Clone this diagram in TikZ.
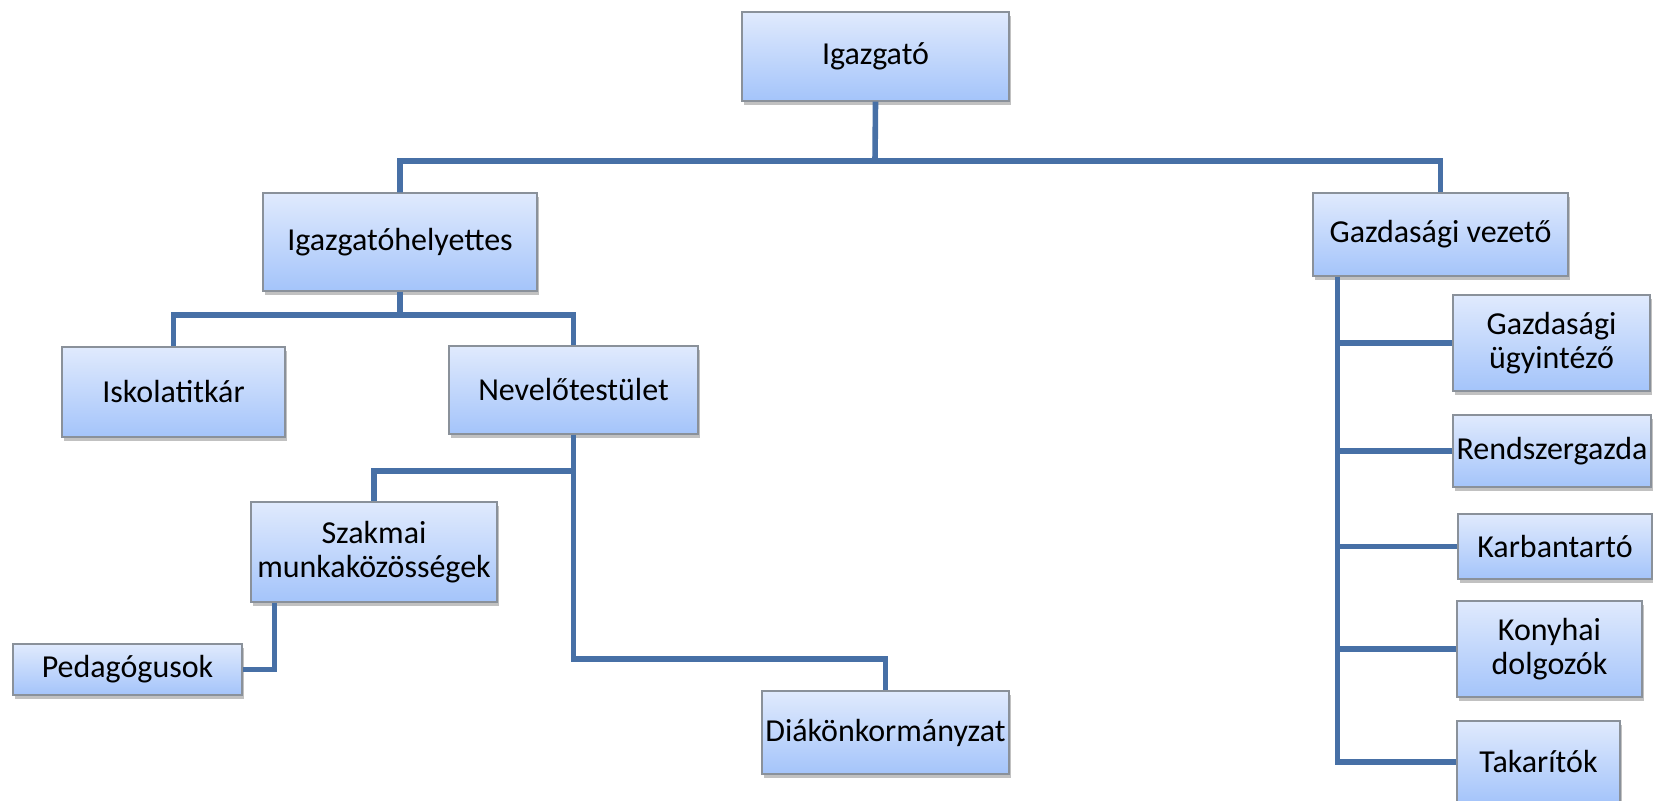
\documentclass[tikz,border=0pt]{standalone}
\usepackage{fontspec}
\setmainfont{Carlito}
\usetikzlibrary{shadows,positioning}
\definecolor{conn}{RGB}{71,112,166}
\definecolor{boxborder}{RGB}{138,145,154}
\definecolor{boxtop}{RGB}{224,234,253}
\definecolor{boxbot}{RGB}{164,196,250}
\tikzset{
  orgbox/.style={draw=boxborder, line width=0.6pt, top color=boxtop, bottom color=boxbot,
    align=center, inner sep=0pt, font=\fontsize{16pt}{17pt}\selectfont, text=black,
    drop shadow={shadow xshift=0.8pt, shadow yshift=-1.8pt, opacity=0.35, fill=black!70}},
  link/.style={draw=conn, line width=2.8pt, line join=miter}
}
\begin{document}
\begin{tikzpicture}[x=0.5pt,y=-0.5pt]
\useasboundingbox (0,0) rectangle (1653,801);
\clip (0,0) rectangle (1653,801);
% nodes (positions in px of the reference)
\node[orgbox, minimum width=133.5pt, minimum height=44.5pt] (igaz) at (875.5,56.5) {Igazgató};
\node[orgbox, minimum width=137pt, minimum height=49pt] (helyettes) at (400,242) {Igazgatóhelyettes};
\node[orgbox, minimum width=127.5pt, minimum height=41.5pt] (gazdvez) at (1440.5,234.5) {Gazdasági vezető};
\node[orgbox, minimum width=111.5pt, minimum height=45pt] (iskola) at (173.5,392) {Iskolatitkár};
\node[orgbox, minimum width=124.5pt, minimum height=44pt] (nevelo) at (573.5,390) {Nevelőtestület};
\node[orgbox, minimum width=123pt, minimum height=50pt] (szakmai) at (374,552) {Szakmai\\munkaközösségek};
\node[orgbox, minimum width=114.5pt, minimum height=25.5pt] (pedag) at (127.5,669.5) {Pedagógusok};
\node[orgbox, minimum width=123.5pt, minimum height=41.5pt] (diak) at (885.5,732.5) {Diákönkormányzat};
\node[orgbox, minimum width=98.5pt, minimum height=48pt] (ugy) at (1551.5,343) {Gazdasági\\ügyintéző};
\node[orgbox, minimum width=99pt, minimum height=36pt] (rend) at (1552,451) {Rendszergazda};
\node[orgbox, minimum width=97pt, minimum height=32.5pt] (karban) at (1555,546.5) {Karbantartó};
\node[orgbox, minimum width=92.5pt, minimum height=48pt] (konyha) at (1549.5,649) {Konyhai\\dolgozók};
\node[orgbox, minimum width=81.5pt, minimum height=41pt] (takar) at (1538.5,762) {Takarítók};
% junction points
\coordinate (j1) at (875,161);
\coordinate (j2) at (400,315);
\coordinate (j3) at (573.5,659);
\coordinate (j3a) at (573.5,471);
\coordinate (s1) at ([xshift=12pt]szakmai.south west);
\coordinate (g1) at ([xshift=12.5pt]gazdvez.south west);
% connectors
\draw[link] (igaz.south) -- (j1) -| (helyettes.north);
\draw[link] (j1) -| (gazdvez.north);
\draw[link] (helyettes.south) -- (j2) -| (iskola.north);
\draw[link] (j2) -| (nevelo.north);
\draw[link] (nevelo.south) -- (j3) -| (diak.north);
\draw[link] (j3a) -| (szakmai.north);
\draw[link] (s1) |- (pedag.east);
\draw[link] (g1) |- (takar.west);
\draw[link] (ugy.west) -- (ugy.west -| g1);
\draw[link] (rend.west) -- (rend.west -| g1);
\draw[link] (karban.west) -- (karban.west -| g1);
\draw[link] (konyha.west) -- (konyha.west -| g1);
\end{tikzpicture}
\end{document}
